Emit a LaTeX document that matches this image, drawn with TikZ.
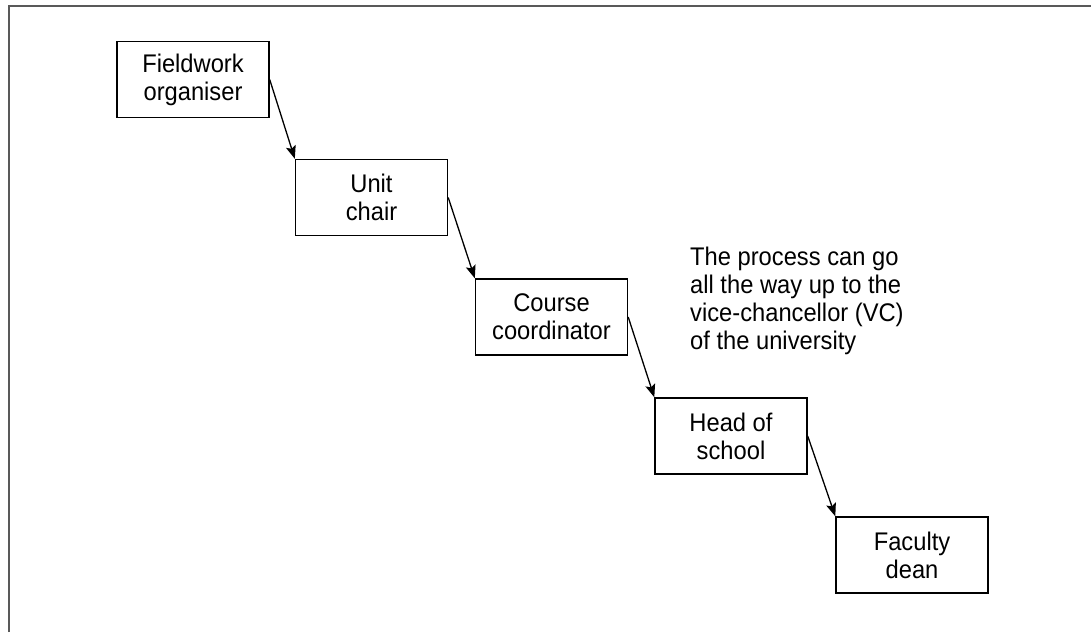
\documentclass[tikz,border=0pt]{standalone}
\usepackage{fontspec}
\setmainfont{Liberation Sans}[FakeStretch=0.93]
\usetikzlibrary{arrows.meta}
\begin{document}
\begin{tikzpicture}[x=1pt,y=-1pt,
  stagebox/.style={draw=black, line width=1.4pt, rectangle, inner sep=0pt,
    minimum width=152pt, minimum height=76pt, align=center,
    font=\fontsize{25.5pt}{28pt}\selectfont},
  flow/.style={line width=1.3pt, -{Stealth[length=13pt,width=10pt,inset=2.5pt]}},
  frameline/.style={draw=black!65, line width=1.8pt}]
\useasboundingbox (0,0) rectangle (1091,632);
% open frame along the left and top
\draw[frameline] (9,632) -- (9,6) -- (1091,6);

% escalation chain
\node[stagebox] (fieldwork) at (193,79.5)   {Fieldwork\\organiser};
\node[stagebox] (unit)      at (371.5,197.5) {Unit\\chair};
\node[stagebox] (course)    at (551.5,317)   {Course\\coordinator};
\node[stagebox] (head)      at (731,436)     {Head of\\school};
\node[stagebox] (dean)      at (912,555)     {Faculty\\dean};

\draw[flow] (fieldwork.east) -- (unit.north west);
\draw[flow] (unit.east) -- (course.north west);
\draw[flow] (course.east) -- (head.north west);
\draw[flow] (head.east) -- (dean.north west);

% side note
\node[anchor=north west, inner sep=0pt, align=left,
  font=\fontsize{25.5pt}{28pt}\selectfont] (note) at (690,246.5)
  {The process can go\\all the way up to the\\vice-chancellor (VC)\\of the university};
\end{tikzpicture}
\end{document}
